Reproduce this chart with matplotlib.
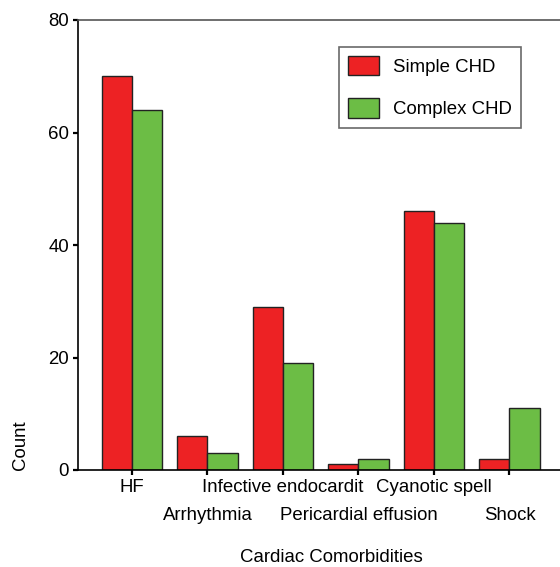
import matplotlib
matplotlib.use("Agg")
import matplotlib.pyplot as plt
import matplotlib.transforms as mtransforms
import numpy as np

categories = ["HF", "Arrhythmia", "Infective endocardit", "Pericardial effusion", "Cyanotic spell", "Shock"]
simple_chd = [70, 6, 29, 1, 46, 2]
complex_chd = [64, 3, 19, 2, 44, 11]
series_names = ["Simple CHD", "Complex CHD"]
yticks = [0, 20, 40, 60, 80]

plt.rcParams['font.family'] = ['Liberation Sans', 'DejaVu Sans']
W, H = 560, 567
FS = 13.4
fig = plt.figure(figsize=(W / 100, H / 100), dpi=100)
ax = fig.add_axes([78 / W, 1 - 470 / H, 1 - 78 / W, (470 - 20) / H])

red = "#ED2224"
green = "#6CBD45"
x = np.arange(len(categories))
bw = 0.4
ax.bar(x - bw / 2, simple_chd, bw, color=red, edgecolor="#222222", linewidth=1.0, label=series_names[0])
ax.bar(x + bw / 2, complex_chd, bw, color=green, edgecolor="#222222", linewidth=1.0, label=series_names[1])

ax.set_xlim(-0.715, 5.67)
ax.set_ylim(0, 80)
ax.set_yticks(yticks)
ax.set_xticks(x)
ax.set_xticklabels(categories)
ax.tick_params(axis='both', labelsize=FS, length=3.5, width=1.6, colors='black', direction='out')
ax.tick_params(axis='x', pad=3)
ax.tick_params(axis='y', pad=3)

ax.spines['right'].set_visible(False)
ax.spines['top'].set_color('#555555')
ax.spines['top'].set_linewidth(1.2)
ax.spines['left'].set_linewidth(1.2)
ax.spines['bottom'].set_linewidth(1.2)

offset = mtransforms.ScaledTranslation(0, -28 / 100, fig.dpi_scale_trans)
for i, lab in enumerate(ax.get_xticklabels()):
    if i % 2 == 1:
        lab.set_transform(lab.get_transform() + offset)

ax.set_xlabel("Cardiac Comorbidities", fontsize=FS)
ax.xaxis.set_label_coords((331 - 78) / (W - 78), -(557 - 470) / 450, transform=ax.transAxes)
ax.xaxis.label.set_va('center')
ax.set_ylabel("Count", fontsize=FS)
ax.yaxis.set_label_coords(-(78 - 20) / (W - 78), (470 - 445) / 450, transform=ax.transAxes)
ax.yaxis.label.set_va('center')

leg = ax.legend(loc='upper left', bbox_to_anchor=(339 / W, 1 - 47 / H), bbox_transform=fig.transFigure,
                fontsize=FS, frameon=True, fancybox=False, edgecolor='#444444',
                handlelength=1.65, handleheight=1.2, labelspacing=1.2, handletextpad=0.75,
                borderpad=0.5, borderaxespad=0)
leg.get_frame().set_linewidth(1.2)

fig.savefig("out.png", dpi=100)
